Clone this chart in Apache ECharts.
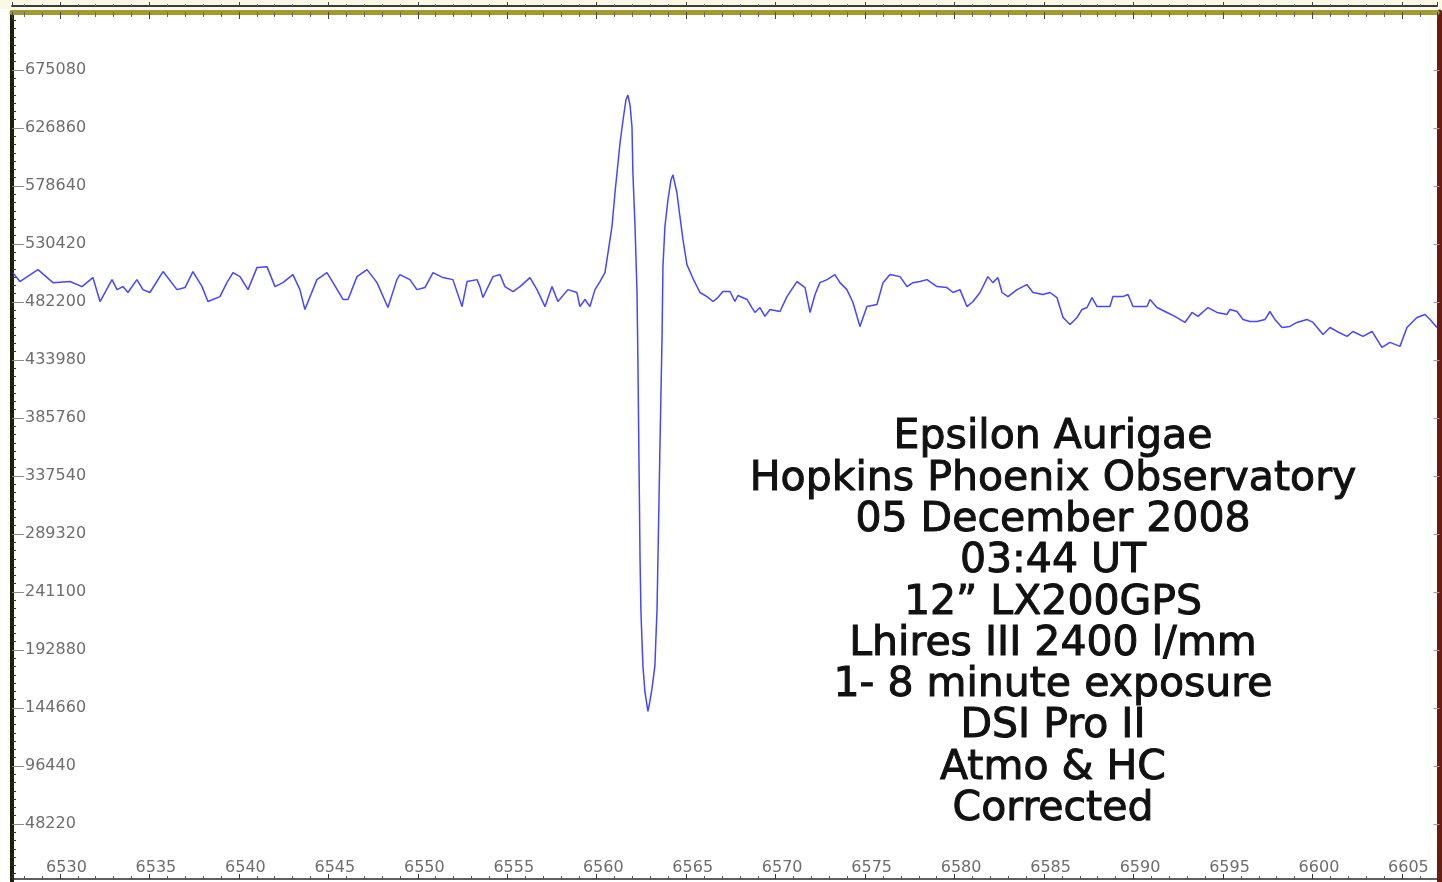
<!DOCTYPE html>
<html>
<head>
<meta charset="utf-8">
<title>Epsilon Aurigae – H-alpha spectrum</title>
<script src="https://cdn.jsdelivr.net/npm/echarts@6/dist/echarts.min.js"></script>
<style>
  html, body { margin: 0; padding: 0; background: #ffffff; }
  #chart { width: 1442px; height: 882px; }
</style>
</head>
<body>
<div id="chart"></div>
<script>
// Wavelength (Angstrom) of each sample of the spectrum
const wavelengths = [
  6527.37, 6527.76, 6528.77, 6529.61, 6530.56, 6531.23, 6531.84, 6532.24, 6532.91, 6533.19,
  6533.52, 6533.80, 6534.30, 6534.64, 6535.03, 6535.76, 6536.54, 6536.99, 6537.43, 6537.94,
  6538.27, 6538.94, 6539.33, 6539.67, 6540.06, 6540.51, 6541.01, 6541.57, 6542.02, 6542.46,
  6543.02, 6543.41, 6543.69, 6544.36, 6544.92, 6545.26, 6545.82, 6546.10, 6546.60, 6547.16,
  6547.72, 6548.33, 6548.83, 6549.00, 6549.56, 6549.95, 6550.40, 6550.85, 6551.40, 6551.96,
  6552.47, 6552.75, 6553.31, 6553.47, 6553.64, 6554.20, 6554.59, 6554.87, 6555.32, 6555.71,
  6556.27, 6556.66, 6557.11, 6557.50, 6557.83, 6558.39, 6558.89, 6559.06, 6559.34, 6559.62,
  6559.90, 6560.18, 6560.46, 6560.63, 6560.85, 6561.02, 6561.30, 6561.47, 6561.63, 6561.74,
  6561.86, 6561.97, 6562.02, 6562.14, 6562.25, 6562.30, 6562.36, 6562.42, 6562.47, 6562.58,
  6562.69, 6562.86, 6562.97, 6563.09, 6563.25, 6563.37, 6563.42, 6563.53, 6563.65, 6563.70,
  6563.81, 6563.98, 6564.15, 6564.26, 6564.48, 6564.65, 6564.82, 6565.04, 6565.38, 6565.77,
  6566.16, 6566.50, 6566.77, 6567.05, 6567.45, 6567.72, 6567.89, 6568.40, 6568.67, 6568.84,
  6569.12, 6569.40, 6569.68, 6570.24, 6570.63, 6571.19, 6571.64, 6571.92, 6572.20, 6572.47,
  6572.87, 6573.31, 6573.59, 6573.98, 6574.32, 6574.71, 6575.10, 6575.66, 6576.00, 6576.39,
  6576.95, 6577.34, 6577.67, 6578.06, 6578.46, 6579.01, 6579.57, 6579.91, 6580.30, 6580.69,
  6581.03, 6581.42, 6581.86, 6582.14, 6582.42, 6582.65, 6582.98, 6583.49, 6584.04, 6584.38,
  6584.94, 6585.33, 6585.72, 6586.06, 6586.45, 6586.84, 6587.12, 6587.40, 6587.68, 6587.96,
  6588.68, 6588.85, 6589.41, 6589.69, 6589.97, 6590.75, 6590.92, 6591.31, 6591.87, 6592.31,
  6592.87, 6593.27, 6593.60, 6594.16, 6594.66, 6595.22, 6595.39, 6595.78, 6596.12, 6596.51,
  6596.90, 6597.35, 6597.62, 6597.90, 6598.30, 6598.74, 6599.13, 6599.69, 6600.03, 6600.59,
  6600.98, 6601.37, 6601.93, 6602.26, 6602.82, 6603.33, 6603.88, 6604.33, 6604.89, 6605.28,
  6605.84, 6606.29, 6606.57, 6606.96
];

// Relative intensity (ADU) at each wavelength
const flux = [
  506600, 499200, 509100, 498300, 499200, 495000, 502500, 482600, 500800, 492500,
  495000, 490100, 500800, 492500, 490100, 507500, 492500, 494200, 507500, 495000,
  482600, 486700, 498300, 506600, 503300, 492500, 510800, 511600, 495000, 498300,
  505000, 492500, 476000, 500800, 506600, 498300, 484300, 484300, 503300, 509100,
  498300, 477600, 500800, 505000, 500800, 492500, 494200, 506600, 502500, 500800,
  478400, 499200, 500800, 495000, 485900, 503300, 505000, 495000, 490900, 495000,
  502500, 492500, 478400, 495000, 482600, 492500, 490100, 478400, 484300, 478400,
  492500, 499200, 506600, 523200, 544800, 573000, 614400, 633500, 650100, 654200,
  646000, 627700, 589600, 544800, 490100, 434500, 351600, 268700, 224700, 179900,
  158400, 141800, 150100, 160900, 179900, 227200, 268700, 359900, 453600, 511600,
  544800, 567200, 583800, 587900, 573000, 553100, 534000, 513300, 501700, 490100,
  486700, 482600, 485900, 490900, 490900, 482600, 487600, 484300, 477600, 473500,
  477600, 470200, 476000, 474300, 486700, 499200, 494200, 473500, 488400, 498300,
  500800, 505000, 498300, 492500, 481800, 461900, 478400, 480100, 498300, 505000,
  503300, 495000, 498300, 499200, 500800, 495000, 494200, 490100, 492500, 478400,
  482600, 490100, 503300, 498300, 502500, 490100, 486700, 492500, 496700, 490100,
  488400, 490100, 485900, 469300, 463500, 469300, 476000, 477600, 485900, 478400,
  478400, 486700, 486700, 488400, 478400, 478400, 484300, 477600, 473500, 470200,
  465200, 473500, 470200, 477600, 473500, 471800, 476000, 474300, 467700, 466000,
  466000, 467700, 474300, 467700, 461000, 461900, 465200, 467700, 465200, 455200,
  461000, 457700, 453600, 457700, 453600, 457700, 444500, 448600, 445300, 461000,
  469300, 471800, 467700, 461000
];

// Axis extents and tick step
const wavelengthRange = [6527.32, 6606.96];
const intensityStep = 48220;
const intensityMax = 15 * intensityStep;

// Observation notes shown on the plot
const captionLines = [
  'Epsilon Aurigae',
  'Hopkins Phoenix Observatory',
  '05 December 2008',
  '03:44 UT',
  '12\u201D LX200GPS',
  'Lhires III 2400 l/mm',
  '1- 8 minute exposure',
  'DSI Pro II',
  'Atmo & HC',
  'Corrected'
];

const labelFont = { fontFamily: 'DejaVu Sans', fontSize: 16, color: '#6e6e6e' };
const plainNumber = (v) => String(Math.round(v));

const chart = echarts.init(document.getElementById('chart'), null, { renderer: 'canvas' });

const option = {
  animation: false,
  backgroundColor: '#ffffff',
  grid: { left: 12, top: 12, width: 1425, height: 872.2, containLabel: false },
  xAxis: [
    {
      // wavelength scale along the bottom edge
      type: 'value', position: 'bottom', offset: -3,
      min: wavelengthRange[0], max: wavelengthRange[1], splitNumber: 16,
      axisLine: { show: true, onZero: false, lineStyle: { color: '#2a2a2a', width: 1.5 } },
      axisTick: { show: true, inside: true, length: 5, lineStyle: { color: '#333333' } },
      minorTick: { show: true, splitNumber: 5, length: 3, lineStyle: { color: '#555555' } },
      axisLabel: Object.assign({
        inside: true, margin: 3, padding: [0, 0, 0, 13],
        showMinLabel: false, showMaxLabel: false, formatter: plainNumber
      }, labelFont),
      splitLine: { show: false }
    },
    {
      // frame along the top edge
      type: 'value', position: 'top',
      min: wavelengthRange[0], max: wavelengthRange[1], splitNumber: 16,
      axisLine: { show: true, onZero: false, lineStyle: { color: '#a29b2c', width: 5 } },
      axisTick: { show: true, inside: true, length: 7, lineStyle: { color: '#444444' } },
      minorTick: { show: true, splitNumber: 5, length: 5, lineStyle: { color: '#666666' } },
      axisLabel: { show: false },
      splitLine: { show: false }
    },
    {
      // edge of the panel above
      type: 'value', position: 'top', offset: 6,
      min: wavelengthRange[0], max: wavelengthRange[1], splitNumber: 16,
      axisLine: { show: true, onZero: false, lineStyle: { color: '#3a3a44', width: 2 } },
      axisTick: { show: true, inside: false, length: 4, lineStyle: { color: '#444444' } },
      minorTick: { show: true, splitNumber: 5, length: 2, lineStyle: { color: '#777777' } },
      axisLabel: { show: false },
      splitLine: { show: false }
    }
  ],
  yAxis: [
    {
      type: 'value', position: 'left',
      min: 0, max: intensityMax, interval: intensityStep,
      axisLine: { show: true, onZero: false, lineStyle: { color: '#1e1e08', width: 4 } },
      axisTick: { show: true, inside: true, length: 12, lineStyle: { color: '#8a8a8a', width: 1 } },
      minorTick: { show: true, splitNumber: 7, length: 4, lineStyle: { color: '#333333' } },
      axisLabel: Object.assign({
        inside: true, margin: 13, padding: [4, 0, 0, 0],
        showMinLabel: false, showMaxLabel: false, formatter: plainNumber
      }, labelFont),
      splitLine: { show: false }
    },
    {
      type: 'value', position: 'right', offset: 2.5,
      min: 0, max: intensityMax, interval: intensityStep,
      axisLine: { show: true, onZero: false, lineStyle: { color: '#6a1c12', width: 5 } },
      axisTick: { show: true, inside: true, length: 6, lineStyle: { color: '#9a9a9a' } },
      axisLabel: { show: false },
      splitLine: { show: false }
    }
  ],
  series: [
    {
      type: 'line',
      xAxisIndex: 0, yAxisIndex: 0,
      data: wavelengths.map((w, i) => [w, flux[i]]),
      symbol: 'none', showSymbol: false, smooth: false,
      lineStyle: { color: '#4646ff', width: 1.5 },
      z: 3
    }
  ],
  graphic: [
    {
      type: 'rect', z: -1, silent: true,
      shape: { x: 0, y: 0, width: 1442, height: 9 },
      style: { fill: '#fbf8e4' }
    },
    {
      type: 'text', x: 1053, y: 417, z: 10, silent: true,
      style: {
        text: captionLines.join('\n'),
        align: 'center', verticalAlign: 'top',
        font: '41px "DejaVu Sans"', lineHeight: 41.3,
        fill: '#111111', stroke: '#111111', lineWidth: 1
      }
    }
  ]
};

chart.setOption(option);
</script>
</body>
</html>
